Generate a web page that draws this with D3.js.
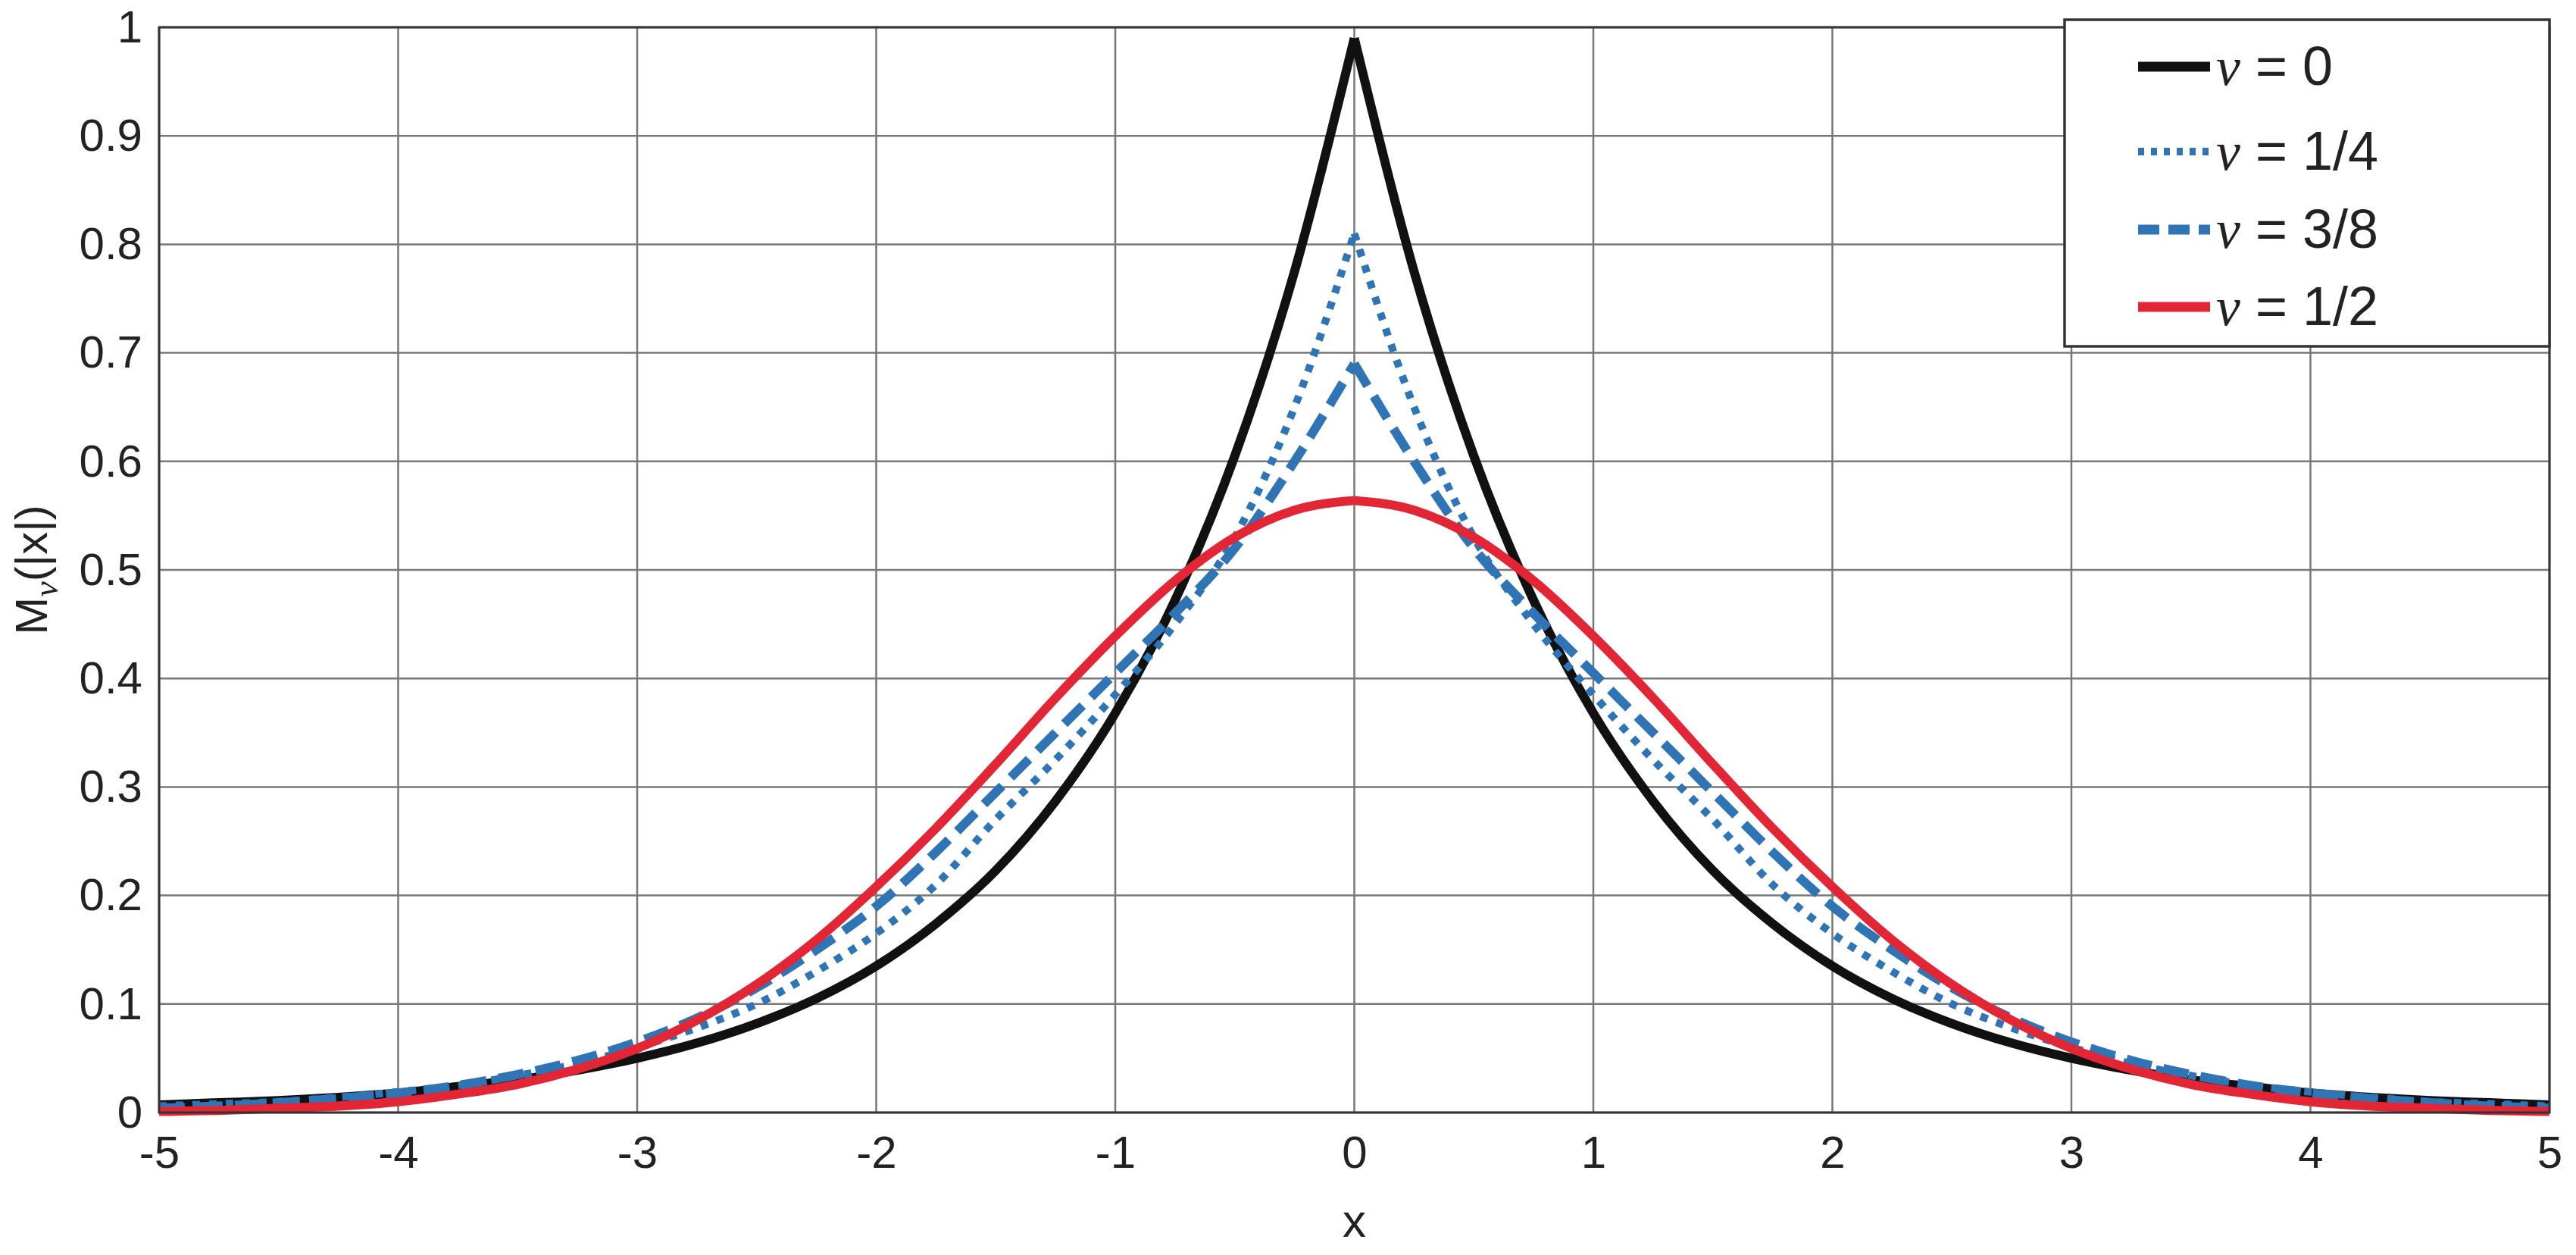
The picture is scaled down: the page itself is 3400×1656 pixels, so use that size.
<!DOCTYPE html><html><head><meta charset="utf-8"><script src="https://cdn.jsdelivr.net/npm/d3@7"></script>
<style>body{margin:0;background:#fff}</style></head><body><svg id="c" width="3400" height="1656"></svg>
<script>
const xHalf=[0,0.25,0.5,0.75,1,1.25,1.5,1.75,2,2.25,2.5,2.75,3,3.25,3.5,3.75,4,4.25,4.5,4.75,5];
const nu0=[0.99,0.775,0.605,0.472,0.368,0.287,0.223,0.174,0.135,0.105,0.082,0.064,0.050,0.039,0.030,0.024,0.018,0.014,0.011,0.009,0.007];
const nu14=[0.81,0.65,0.53,0.45,0.385,0.325,0.27,0.21,0.165,0.13,0.10,0.078,0.06,0.045,0.034,0.025,0.019,0.014,0.010,0.008,0.006];
const nu38=[0.69,0.60,0.52,0.46,0.405,0.35,0.295,0.24,0.19,0.15,0.115,0.087,0.065,0.048,0.035,0.025,0.018,0.013,0.009,0.006,0.004];
const nu12=[0.564,0.555,0.530,0.490,0.439,0.382,0.321,0.262,0.208,0.159,0.118,0.085,0.059,0.040,0.026,0.017,0.010,0.006,0.004,0.002,0.001];
const labels=["\u03BD = 0","\u03BD = 1/4","\u03BD = 3/8","\u03BD = 1/2"];
const xTicks=[-5,-4,-3,-2,-1,0,1,2,3,4,5];
const yTicks=[0,0.1,0.2,0.3,0.4,0.5,0.6,0.7,0.8,0.9,1];
const colors=["#111","#2f74b5","#2f74b5","#e32636"];
const dashes=[null,"10,12","34,16",null];
const L=210,R=3365,T=36,B=1468;
const svg=d3.select("#c");
const x=d3.scaleLinear().domain([-5,5]).range([L,R]);
const y=d3.scaleLinear().domain([0,1]).range([B,T]);
const g=svg.append("g");
g.selectAll(".gx").data(xTicks).join("line").attr("x1",d=>x(d)).attr("x2",d=>x(d)).attr("y1",T).attr("y2",B).attr("stroke","#777").attr("stroke-width",2.5);
g.selectAll(".gy").data(yTicks).join("line").attr("y1",d=>y(d)).attr("y2",d=>y(d)).attr("x1",L).attr("x2",R).attr("stroke","#777").attr("stroke-width",2.5);
const xa=svg.append("g").attr("transform",`translate(0,${B})`).call(d3.axisBottom(x).tickValues(xTicks).tickFormat(d=>String(d)).tickSize(0).tickPadding(30));
const ya=svg.append("g").attr("transform",`translate(${L},0)`).call(d3.axisLeft(y).tickValues(yTicks).tickFormat(d=>String(d)).tickSize(0).tickPadding(22));
[xa,ya].forEach(a=>{a.select(".domain").remove();a.selectAll("text").attr("font-family","Liberation Sans, Arial").attr("font-size",60).attr("fill","#222");});
const series=[nu0,nu14,nu38,nu12];
const line=d3.line().x(d=>x(d[0])).y(d=>y(d[1])).curve(d3.curveMonotoneX);
series.forEach((s,i)=>{
  const right=xHalf.map((v,j)=>[v,s[j]]);
  const left=xHalf.map((v,j)=>[-v,s[j]]).reverse();
  [left,right].forEach(p=>{
    svg.append("path").attr("d",line(p)).attr("fill","none").attr("stroke",colors[i]).attr("stroke-width",i===1?10:12).attr("stroke-dasharray",dashes[i]);
  });
});
svg.append("rect").attr("x",L).attr("y",T).attr("width",R-L).attr("height",B-T).attr("fill","none").attr("stroke","#333").attr("stroke-width",3);
const lg=svg.append("g");
lg.append("rect").attr("x",2725).attr("y",T-10).attr("width",R-2725).attr("height",457-T+10).attr("fill","#fff").attr("stroke","#333").attr("stroke-width",3.5);
const ly=[88,200,303,405];
labels.forEach((t,i)=>{
  lg.append("line").attr("x1",2822).attr("x2",2917).attr("y1",ly[i]).attr("y2",ly[i]).attr("stroke",colors[i]).attr("stroke-width",i===1?10:13).attr("stroke-dasharray",i===1?"8,9":i===2?"28,12":null);
  const tx=lg.append("text").attr("x",2925).attr("y",ly[i]+24).attr("font-family","Liberation Sans, Arial").attr("font-size",72).attr("fill","#222");
  tx.append("tspan").attr("font-family","Liberation Serif, Times New Roman").attr("font-style","italic").text("\u03BD");
  tx.append("tspan").text(t.slice(1));
});
svg.append("text").attr("x",x(0)).attr("y",1632).attr("text-anchor","middle").attr("font-family","Liberation Sans, Arial").attr("font-size",62).attr("fill","#222").text("x");
const yl=svg.append("text").attr("transform",`translate(62,${y(0.5)}) rotate(-90)`).attr("text-anchor","middle").attr("font-family","Liberation Sans, Arial").attr("font-size",60).attr("fill","#222");
yl.append("tspan").text("M");
yl.append("tspan").attr("font-family","Liberation Serif").attr("font-style","italic").attr("font-size",46).attr("dy",14).text("\u03BD");
yl.append("tspan").attr("dy",-14).text("(|x|)");
</script></body></html>
